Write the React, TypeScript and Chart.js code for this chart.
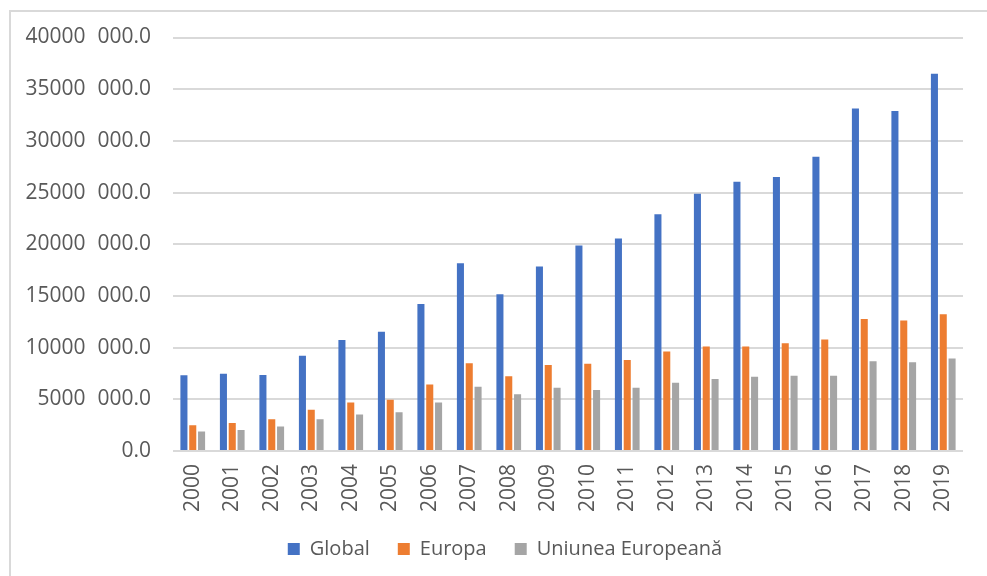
import React, { useEffect, useRef } from "react";
import { Chart, registerables } from "chart.js";

Chart.register(...registerables);

const years = [
  "2000", "2001", "2002", "2003", "2004", "2005", "2006", "2007", "2008", "2009",
  "2010", "2011", "2012", "2013", "2014", "2015", "2016", "2017", "2018", "2019",
];

const globalValues = [
  7330000, 7470000, 7340000, 9210000, 10740000, 11540000, 14230000, 18170000, 15170000, 17850000,
  19880000, 20560000, 22900000, 24880000, 26040000, 26500000, 28470000, 33140000, 32900000, 36500000,
];

const europaValues = [
  2500000, 2720000, 3070000, 3980000, 4690000, 4950000, 6430000, 8500000, 7240000, 8310000,
  8450000, 8810000, 9620000, 10100000, 10100000, 10430000, 10790000, 12760000, 12630000, 13220000,
];

const euValues = [
  1880000, 2040000, 2360000, 3070000, 3520000, 3750000, 4690000, 6210000, 5500000, 6110000,
  5890000, 6120000, 6610000, 6960000, 7190000, 7290000, 7290000, 8680000, 8580000, 8940000,
];

const seriesNames = ["Global", "Europa", "Uniunea Europeană"];
const seriesColors = ["#4472C4", "#ED7D31", "#A5A5A5"];

const yMax = 40000000;
const yStep = 5000000;

// "40000 000.0": one space before the last three integer digits, one decimal
function formatValue(v: number): string {
  const [intPart, dec] = v.toFixed(1).split(".");
  if (intPart.length <= 3) return `${intPart}.${dec}`;
  return `${intPart.slice(0, -3)}\u2007${intPart.slice(-3)}.${dec}`;
}

const FONT = "'Open Sans', 'Noto Sans', sans-serif";
const TEXT = "#595959";
const GRID = "#d9d9d9";

// Centre the legend under the whole frame rather than the padded layout box
const legendShift = {
  id: "legendShift",
  afterLayout(chart: any) {
    const lg = chart.legend;
    if (!lg) return;
    lg.left += 18;
    lg.right += 18;
  },
};

export default function App() {
  const canvasRef = useRef<HTMLCanvasElement | null>(null);

  useEffect(() => {
    if (!canvasRef.current) return;
    const chart = new Chart(canvasRef.current, {
      type: "bar",
      data: {
        labels: years,
        datasets: [globalValues, europaValues, euValues].map((vals, i) => ({
          label: seriesNames[i],
          data: vals,
          backgroundColor: seriesColors[i],
          borderWidth: 0,
          categoryPercentage: 0.67,
          barPercentage: 0.8,
        })),
      },
      plugins: [legendShift],
      options: {
        animation: false,
        responsive: true,
        maintainAspectRatio: false,
        layout: { padding: { top: 25.5, right: 24, bottom: 7, left: 0 } },
        plugins: {
          tooltip: { enabled: false },
          legend: {
            position: "bottom",
            align: "center",
            labels: {
              boxWidth: 12,
              boxHeight: 12,
              padding: 28,
              color: TEXT,
              font: { family: FONT, size: 20 },
            },
          },
        },
        scales: {
          x: {
            grid: { display: false, drawTicks: false },
            border: { display: false },
            ticks: {
              minRotation: 90,
              maxRotation: 90,
              padding: 13,
              color: TEXT,
              font: { family: FONT, size: 21 },
            },
            afterFit: (scale: any) => {
              scale.height = 60;
            },
          },
          y: {
            min: 0,
            max: yMax,
            grid: { color: GRID, lineWidth: 2, drawTicks: false },
            border: { display: false },
            ticks: {
              stepSize: yStep,
              padding: 22,
              color: TEXT,
              font: { family: FONT, size: 21 },
              callback: (v: any) => formatValue(Number(v)),
            },
            afterFit: (scale: any) => {
              scale.width = 162;
              scale.paddingTop = 12;
              scale.paddingBottom = 12;
            },
          },
        },
      },
    });
    return () => chart.destroy();
  }, []);

  return (
    <div
      style={{
        position: "absolute",
        left: 9,
        top: 10,
        width: 978,
        height: 566,
        boxSizing: "border-box",
        borderTop: `2px solid ${GRID}`,
        borderLeft: `2px solid ${GRID}`,
        background: "#fff",
      }}
    >
      <div style={{ position: "relative", width: 976, height: 564 }}>
        <canvas ref={canvasRef} />
      </div>
    </div>
  );
}
